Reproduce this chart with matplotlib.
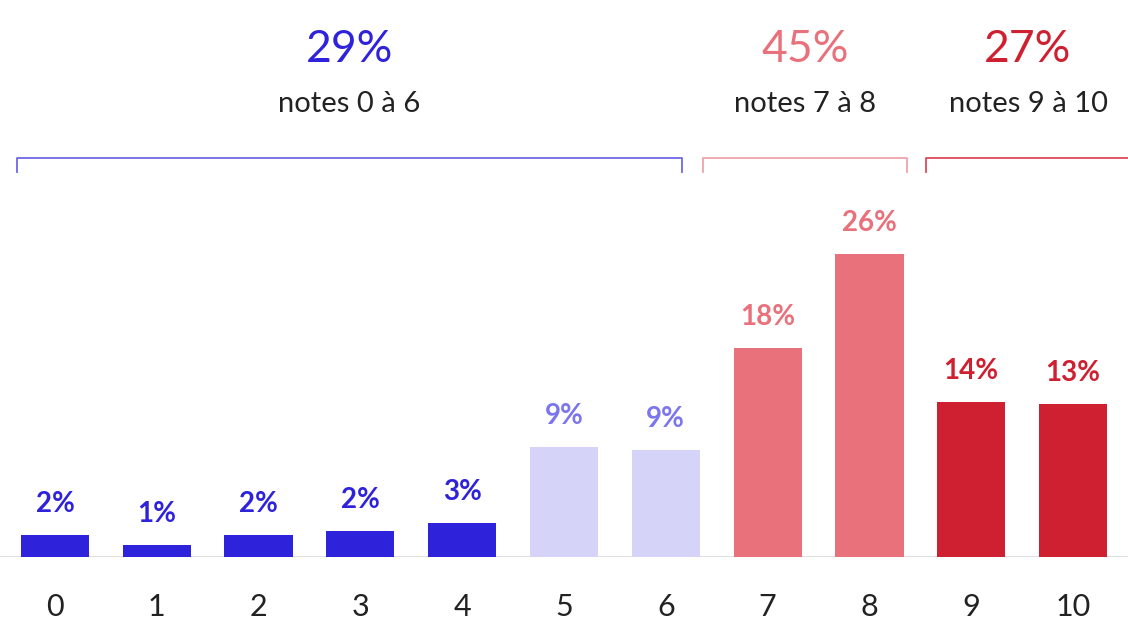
import matplotlib
matplotlib.use("Agg")
import matplotlib.pyplot as plt

# data
notes = ["0", "1", "2", "3", "4", "5", "6", "7", "8", "9", "10"]
shares = [1.9, 1.0, 1.9, 2.2, 2.9, 9.4, 9.2, 17.9, 26.0, 13.3, 13.1]
share_labels = ["2%", "1%", "2%", "2%", "3%", "9%", "9%", "18%", "26%", "14%", "13%"]
group_totals = ["29%", "45%", "27%"]
group_names = ["notes 0 à 6", "notes 7 à 8", "notes 9 à 10"]

BLUE = "#2E22DB"
LAVENDER = "#D5D3F7"
LAV_TEXT = "#7B76EE"
PINK = "#E8717B"
RED = "#CE2030"
bar_colors = [BLUE] * 5 + [LAVENDER] * 2 + [PINK] * 2 + [RED] * 2
label_colors = [BLUE] * 5 + [LAV_TEXT] * 2 + [PINK] * 2 + [RED] * 2
header_colors = [BLUE, PINK, RED]
bracket_colors = ["#6E68E6", "#F0A4AB", "#DB4B58"]
# bracket extents in bar units
bracket_spans = [(-0.373, 6.16), (6.365, 8.37), (8.556, 10.56)]

plt.rcParams["font.family"] = ["Lato", "DejaVu Sans"]

fig = plt.figure(figsize=(11.28, 6.2), dpi=100)
base = 557 / 620
ax = fig.add_axes([0, 1 - base, 1, base])
x = list(range(len(notes)))
ax.bar(x, shares, width=0.67, color=bar_colors, zorder=2)
ax.set_xlim(-0.54, 10.54)
ax.set_ylim(0, 557 / 11.65)

for xi, v, lab, c in zip(x, shares, share_labels, label_colors):
    ax.annotate(lab, (xi, v), xytext=(0, 13), textcoords="offset points",
                ha="center", va="bottom", fontsize=20, color=c, fontweight="bold")

for xi, n in zip(x, notes):
    ax.annotate(n, (xi, 0), xytext=(0, -36), textcoords="offset points",
                ha="center", va="center", fontsize=22, color="#222222",
                annotation_clip=False)

ax.axhline(0, color="#DDDDDD", lw=2, zorder=1)

y_line = (557 - 158) / 11.65
y_tick = (557 - 172) / 11.65
y_total = (557 - 50) / 11.65
y_name = (557 - 104) / 11.65
for (x0, x1), tot, name, hc, bc in zip(bracket_spans, group_totals, group_names,
                                       header_colors, bracket_colors):
    ax.plot([x0, x0, x1, x1], [y_tick, y_line, y_line, y_tick], color=bc, lw=1.3,
            clip_on=False, solid_joinstyle="round")
    xc = (x0 + x1) / 2
    ax.text(xc, y_total, tot, ha="center", va="center", fontsize=32, color=hc)
    ax.text(xc, y_name, name, ha="center", va="center", fontsize=21, color="#222222")

ax.axis("off")
fig.savefig("out.png", dpi=100)
